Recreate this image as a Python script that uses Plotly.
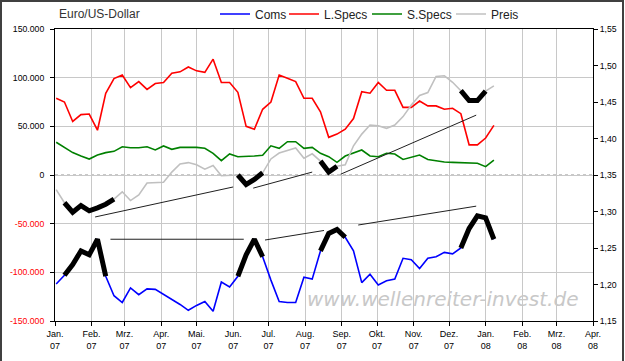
import plotly.graph_objects as go
import pandas as pd

# ---------------- data (weekly) ----------------
dates = pd.date_range("2007-01-02", periods=54, freq="7D")

coms_k = [-112, -103, -92, -78, -82, -66, -104, -124, -131, -116,
          -123, -117, -117.5, -122.6, -128, -133, -139, -134, -130, -140,
          -110, -115, -104, -82, -66, -84, -108, -130, -131, -131,
          -105, -107, -78, -60, -56, -64, -78, -110.6, -102, -113,
          -108.6, -107, -85.6, -87, -96, -85.6, -84, -79.5, -81, -75,
          -55, -42, -44, -66]

lspecs_k = [78.8, 75, 55, 62, 62.6, 46, 84, 99, 102.7, 89.7,
            96, 88, 94, 95, 104.5, 106, 111, 107, 105.5, 119,
            95, 95, 85, 50, 47, 67.5, 75, 102.7, 99.5, 96,
            78.8, 78.8, 65, 38.7, 42, 47, 58, 85.6, 84, 95,
            87, 87, 69.5, 69.5, 76, 71, 71, 67.5, 68.5, 63,
            31, 31, 38, 51]

sspecs_k = [33.6, 28.4, 23, 19.5, 16.4, 20.5, 23, 24.3, 29, 28,
            28, 29, 25.7, 29.8, 26.4, 28.4, 28.4, 28.4, 27.4, 22.3,
            14.7, 21.6, 18.8, 18.8, 19.5, 20.2, 30, 27.4, 34.2, 34.2,
            27.4, 28.4, 22.3, 18.8, 13, 19.5, 23, 25.7, 19.5, 18.8,
            22.3, 21.6, 16, 18, 20.5, 16, 14.4, 13.4, 13, 12.7,
            13, 12, 8.6, 15.4]

preis = [1.330, 1.312, 1.299, 1.308, 1.301, 1.305, 1.310, 1.317, 1.327, 1.315,
         1.3226, 1.339, 1.339, 1.340, 1.354, 1.365, 1.367, 1.364, 1.358, 1.363,
         1.349, 1.349, 1.350, 1.337, 1.344, 1.353, 1.372, 1.380, 1.384, 1.387,
         1.373, 1.379, 1.369, 1.354, 1.362, 1.364, 1.390, 1.406, 1.4185, 1.4175,
         1.414, 1.4185, 1.430, 1.446, 1.459, 1.463, 1.485, 1.486, 1.477, 1.4655,
         1.452, 1.452, 1.465, 1.472]

coms = [v * 1000 for v in coms_k]
lspecs = [v * 1000 for v in lspecs_k]
sspecs = [v * 1000 for v in sspecs_k]

# hand-drawn highlights (index ranges of the weekly series)
preis_marks = [(1, 7), (22, 25), (32, 34), (49, 52)]
coms_marks = [(1, 6), (22, 25), (32, 35), (49, 53)]

# thin trend lines: (start date, start value, end date, end value)
preis_trends = [("2007-02-04", 1.2925, "2007-06-01", 1.3336),
                ("2007-06-18", 1.332, "2007-08-07", 1.354),
                ("2007-08-31", 1.351, "2007-12-24", 1.432)]
coms_trends = [("2007-02-17", -66000, "2007-06-10", -66000),
               ("2007-06-28", -66800, "2007-08-17", -57000),
               ("2007-09-15", -51400, "2007-12-24", -32000)]

month_ticks = pd.date_range("2007-01-01", "2008-04-01", freq="MS")
month_names = ["Jan.", "Feb.", "Mrz.", "Apr.", "Mai.", "Jun.", "Jul.", "Aug.",
               "Sep.", "Okt.", "Nov.", "Dez.", "Jan.", "Feb.", "Mrz.", "Apr."]
month_text = [f"{m}<br>{d.strftime('%y')}" for m, d in zip(month_names, month_ticks)]

left_vals = [150000, 100000, 50000, 0, -50000, -100000, -150000]
right_vals = [1.15, 1.20, 1.25, 1.30, 1.35, 1.40, 1.45, 1.50, 1.55]


def fmt_left(v):
    s = f"{v:,}".replace(",", ".")
    if v < 0:
        return f'<span style="color:#ff0000">{s}</span>'
    return s


left_text = [fmt_left(v) for v in left_vals]
right_text = [f"{v:.2f}".replace(".", ",") for v in right_vals]

FONT = "Liberation Sans, Arial, sans-serif"

fig = go.Figure()

fig.add_trace(go.Scatter(x=dates, y=coms, name="Coms", mode="lines", legendwidth=24,
                         line=dict(color="#0000ff", width=1.6)))
fig.add_trace(go.Scatter(x=dates, y=lspecs, name="L.Specs", mode="lines", legendwidth=38,
                         line=dict(color="#ff0000", width=1.6)))
fig.add_trace(go.Scatter(x=dates, y=sspecs, name="S.Specs", mode="lines", legendwidth=39,
                         line=dict(color="#008000", width=1.6)))
fig.add_trace(go.Scatter(x=dates, y=preis, name="Preis", mode="lines", yaxis="y2",
                         line=dict(color="#c0c0c0", width=1.6)))

for a, b in coms_marks:
    fig.add_trace(go.Scatter(x=dates[a:b + 1], y=coms[a:b + 1], mode="lines",
                             showlegend=False, hoverinfo="skip",
                             line=dict(color="#000000", width=5)))
for a, b in preis_marks:
    fig.add_trace(go.Scatter(x=dates[a:b + 1], y=preis[a:b + 1], mode="lines",
                             yaxis="y2", showlegend=False, hoverinfo="skip",
                             line=dict(color="#000000", width=5)))
for d0, v0, d1, v1 in coms_trends:
    fig.add_trace(go.Scatter(x=[d0, d1], y=[v0, v1], mode="lines",
                             showlegend=False, hoverinfo="skip",
                             line=dict(color="#202020", width=1)))
for d0, v0, d1, v1 in preis_trends:
    fig.add_trace(go.Scatter(x=[d0, d1], y=[v0, v1], mode="lines", yaxis="y2",
                             showlegend=False, hoverinfo="skip",
                             line=dict(color="#202020", width=1)))

W, H = 625, 361
ml, mr, mt, mb = 55, 32, 29, 40
pw, ph = W - ml - mr, H - mt - mb

fig.update_layout(
    width=W, height=H,
    margin=dict(l=ml, r=mr, t=mt, b=mb, pad=0, autoexpand=False),
    paper_bgcolor="white", plot_bgcolor="white",
    font=dict(family=FONT, size=9, color="#000000"),
    showlegend=True,
    legend=dict(orientation="h", x=(215 - ml) / pw, xanchor="left",
                y=1 + 15 / ph, yanchor="middle",
                font=dict(family=FONT, size=12, color="#222222"),
                bgcolor="rgba(0,0,0,0)", itemwidth=30, tracegroupgap=0),
    xaxis=dict(type="date", range=["2007-01-01", "2008-04-01"],
               tickvals=list(month_ticks), ticktext=month_text,
               tickfont=dict(family=FONT, size=9, color="#000000"),
               showgrid=True, gridcolor="#c8c8c8", gridwidth=1,
               showline=True, linecolor="#000000", linewidth=1, mirror=True,
               ticks="outside", ticklen=4, tickcolor="#000000", zeroline=False),
    yaxis=dict(range=[-150000, 150000], tickvals=left_vals, ticktext=left_text,
               tickfont=dict(family=FONT, size=8.7, color="#000000"),
               showgrid=True, gridcolor="#c8c8c8", gridwidth=1, zeroline=False,
               showline=True, linecolor="#000000", linewidth=1,
               ticks="outside", ticklen=4, tickcolor="#000000",
               ticklabelstandoff=4),
    yaxis2=dict(range=[1.15, 1.55], tickvals=right_vals, ticktext=right_text,
                overlaying="y", side="right",
                tickfont=dict(family=FONT, size=8.7, color="#000000"),
                showgrid=False, zeroline=False,
                showline=True, linecolor="#000000", linewidth=1,
                ticks="outside", ticklen=4, tickcolor="#000000"),
    shapes=[
        dict(type="line", xref="paper", yref="y", x0=0, x1=1, y0=0, y1=0,
             line=dict(color="#909090", width=1, dash="dot"), layer="below"),
        dict(type="rect", xref="paper", yref="paper",
             x0=(-ml + 1) / pw, x1=1 + (mr - 2) / pw,
             y0=-(mb + 5) / ph, y1=1 + (mt - 1) / ph,
             line=dict(color="#404040", width=2), fillcolor="rgba(0,0,0,0)"),
    ],
    annotations=[
        dict(text="Euro/US-Dollar", xref="paper", yref="paper",
             x=(57 - ml) / pw, y=1 + 15 / ph, xanchor="left", yanchor="middle",
             showarrow=False, font=dict(family=FONT, size=12, color="#333333")),
        dict(text="<i>www.wellenreiter-invest.de</i>", xref="paper", yref="paper",
             x=(442 - ml) / pw, y=(321 - 299) / ph, xanchor="center", yanchor="middle",
             showarrow=False,
             font=dict(family="DejaVu Sans, sans-serif", size=20, color="#c8c8c8")),
    ],
)

fig.write_html("out.html")
